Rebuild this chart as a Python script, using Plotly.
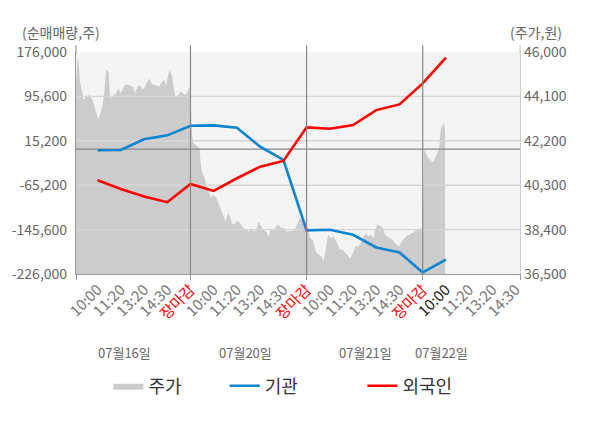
import plotly.graph_objects as go

# slot positions on x: each trading day = 5 slots (10:00, 11:20, 13:20, 14:30, 장마감)
tick_vals = list(range(1, 20))
tick_names = ["10:00", "11:20", "13:20", "14:30", "장마감",
              "10:00", "11:20", "13:20", "14:30", "장마감",
              "10:00", "11:20", "13:20", "14:30", "장마감",
              "10:00", "11:20", "13:20", "14:30"]
day_labels = ["07월16일", "07월20일", "07월21일", "07월22일"]
day_label_x = [2.15, 7.35, 12.52, 15.79]

# 기관 / 외국인 net volume (shares)
flow_x = list(range(1, 17))
inst = [-2000, -1500, 17900, 25100, 42500,
        43200, 38900, 4500, -19500, -147000,
        -146000, -155000, -178000, -187000, -223100,
        -200000]
foreign = [-56200, -71900, -85800, -95900, -62900,
           -75500, -52600, -31600, -21300, 39500,
           37000, 43700, 70800, 81100, 119100,
           166000]

# 주가 (won), intraday
price_x = [0.07, 0.14, 0.18, 0.24, 0.31, 0.40, 0.50, 0.60, 0.71, 0.78,
           0.89, 0.97, 1.03, 1.11, 1.21, 1.29, 1.36, 1.40, 1.47, 1.53,
           1.60, 1.69, 1.79, 1.90, 2.00, 2.12, 2.22, 2.36, 2.51, 2.62,
           2.72, 2.84, 2.94, 3.04, 3.15, 3.22, 3.32, 3.44, 3.55, 3.65,
           3.75, 3.87, 3.95, 4.05, 4.13, 4.20, 4.27, 4.34, 4.44, 4.56,
           4.66, 4.77, 4.87, 4.94, 5.00,
           5.04, 5.07, 5.13, 5.22, 5.32, 5.39, 5.43, 5.50, 5.60, 5.70,
           5.79, 5.89, 5.96, 6.08, 6.18, 6.28, 6.39, 6.51, 6.61, 6.68,
           6.78, 6.89, 6.97, 7.08, 7.18, 7.28, 7.40, 7.51, 7.61, 7.76,
           7.86, 7.94, 8.04, 8.14, 8.26, 8.36, 8.47, 8.57, 8.69, 8.80,
           8.90, 9.02, 9.12, 9.26, 9.38, 9.52, 9.62, 9.72, 9.83, 9.92,
           10.00,
           10.08, 10.15, 10.27, 10.37, 10.51, 10.65, 10.72, 10.80, 10.87, 10.94,
           11.04, 11.15, 11.27, 11.37, 11.44, 11.56, 11.66, 11.76, 11.87, 11.99,
           12.09, 12.23, 12.33, 12.45, 12.56, 12.66, 12.76, 12.88, 12.95, 13.05,
           13.16, 13.28, 13.38, 13.48, 13.59, 13.71, 13.81, 13.91, 13.99, 14.09,
           14.20, 14.31, 14.42, 14.53, 14.67, 14.81, 14.91, 15.00,
           15.06, 15.14, 15.24, 15.34, 15.43, 15.53, 15.63, 15.72, 15.77, 15.86,
           15.92, 15.96]
price = [44720, 45720, 45580, 44720, 44440, 43940, 44080, 44160, 44080, 43940,
         43590, 43230, 43090, 43370, 43660, 44300, 45150, 45220, 45150, 44160,
         44020, 44160, 44230, 44440, 44230, 44510, 44610, 44580, 44510, 44230,
         44510, 44580, 44370, 44510, 44720, 44870, 44660, 44580, 44580, 44510,
         44720, 44800, 44580, 45080, 45220, 45010, 44510, 44080, 44080, 44300,
         44230, 44160, 44300, 44510, 44080,
         43440, 42450, 42090, 42020, 41950, 41880, 41310, 40880, 40600, 40310,
         40030, 39750, 39890, 39810, 39600, 39320, 39100, 38750, 39100, 39030,
         38680, 38610, 38750, 38750, 38610, 38460, 38390, 38320, 38390, 38320,
         38460, 38750, 38530, 38390, 38320, 38110, 38460, 38390, 38530, 38610,
         38460, 38460, 38320, 38320, 38350, 38460, 38680, 38900, 38820, 38610,
         38680,
         38250, 38040, 37960, 37540, 37320, 37250, 37040, 37400, 37890, 38180,
         38040, 38110, 37890, 37680, 37540, 37540, 37400, 37320, 37140, 37400,
         37680, 37680, 37820, 38110, 38220, 38110, 38180, 38040, 38390, 38610,
         38560, 38460, 38180, 38110, 38040, 37960, 37820, 37750, 37680, 37890,
         38040, 38140, 38180, 38250, 38320, 38390, 38460, 38460,
         41810, 41670, 41450, 41380, 41270, 41450, 41670, 41950, 42660, 42880,
         42950, 42660]

left_ticks = [-226000, -145600, -65200, 15200, 95600, 176000]
right_ticks = [36500, 38400, 40300, 42200, 44100, 46000]
x_range = [0.07, 19.19]

FONT = "Noto Sans CJK KR"

tick_text = []
for i, t in enumerate(tick_names):
    if t == "장마감":
        tick_text.append('<span style="color:#ff0000">' + t + '</span>')
    elif i == 15:
        tick_text.append('<span style="color:#222222">' + t + '</span>')
    else:
        tick_text.append(t)

fig = go.Figure()

fig.add_trace(go.Scatter(x=price_x, y=price, mode="lines", name="주가",
                         fill="tozeroy", fillcolor="#cccccc",
                         line=dict(width=0, color="#cccccc"),
                         yaxis="y", legend="legend"))

# grid + zero line on the overlay axis so they sit above the price area
# but below the flow lines
for v in left_ticks[1:-1]:
    fig.add_trace(go.Scatter(x=x_range, y=[v, v], mode="lines", yaxis="y2",
                             line=dict(color="#d6d6d6", width=1.4),
                             hoverinfo="skip", showlegend=False))
fig.add_trace(go.Scatter(x=x_range, y=[0, 0], mode="lines", yaxis="y2",
                         line=dict(color="#888888", width=1.3),
                         hoverinfo="skip", showlegend=False))

fig.add_trace(go.Scatter(x=flow_x, y=inst, mode="lines", name="기관",
                         line=dict(color="#0a84d0", width=2.6),
                         yaxis="y2", legend="legend2"))
fig.add_trace(go.Scatter(x=flow_x, y=foreign, mode="lines", name="외국인",
                         line=dict(color="#ff0000", width=2.6),
                         yaxis="y2", legend="legend3"))

shapes = []
# day separators
for d in [5, 10, 15]:
    shapes.append(dict(type="line", xref="x", x0=d, x1=d, yref="paper", y0=0, y1=1.03,
                       line=dict(color="#888888", width=1.2), layer="above"))
# axis line stubs above the plot
shapes.append(dict(type="line", xref="paper", x0=0, x1=0, yref="paper", y0=0.99, y1=1.03,
                   line=dict(color="#999999", width=1.2), layer="above"))
shapes.append(dict(type="line", xref="paper", x0=1, x1=1, yref="paper", y0=0.99, y1=1.03,
                   line=dict(color="#cccccc", width=1.2), layer="above"))

annotations = []
for lbl, xv in zip(day_labels, day_label_x):
    annotations.append(dict(text=lbl, x=xv, xref="x", y=-0.355, yref="paper",
                            xanchor="center", yanchor="middle", showarrow=False,
                            font=dict(size=13, color="#666666")))
annotations.append(dict(text="(순매매량,주)", x=-0.033, xref="paper", y=1.09, yref="paper",
                        xanchor="center", yanchor="middle", showarrow=False,
                        font=dict(size=14, color="#666666")))
annotations.append(dict(text="(주가,원)", x=1.035, xref="paper", y=1.09, yref="paper",
                        xanchor="center", yanchor="middle", showarrow=False,
                        font=dict(size=14, color="#666666")))

leg = dict(orientation="h", yanchor="middle", y=-0.505, xanchor="left",
           font=dict(size=18, color="#333333"), bgcolor="rgba(0,0,0,0)")

# page body has an 8px margin, so the figure is 8px smaller each way
fig.update_layout(
    width=592, height=420,
    margin=dict(l=68, r=80, t=44, b=154, autoexpand=False),
    paper_bgcolor="white",
    plot_bgcolor="#f4f4f4",
    font=dict(family=FONT, color="#666666"),
    showlegend=True,
    legend=dict(leg, x=0.073),
    legend2=dict(leg, x=0.335),
    legend3=dict(leg, x=0.645),
    xaxis=dict(range=x_range, tickmode="array", tickvals=tick_vals,
               ticktext=tick_text, tickangle=-45, ticks="",
               tickfont=dict(size=15, color="#777777"),
               showgrid=False, zeroline=False, showline=True,
               linecolor="#999999", linewidth=1.2, automargin=False,
               minor=dict(tickmode="array", tickvals=[x_range[0], 5, 10, 15, x_range[1]],
                          ticks="outside", ticklen=5, tickcolor="#999999",
                          showgrid=False)),
    yaxis=dict(range=[36500, 46000], side="right", tickmode="array",
               tickvals=right_ticks, ticktext=[f"{v:,}" for v in right_ticks],
               tickfont=dict(size=14, color="#666666"), showgrid=False,
               zeroline=False, showline=True, linecolor="#cccccc", linewidth=1.2,
               ticks="", automargin=False),
    yaxis2=dict(range=[-226000, 176000], side="left", overlaying="y",
                tickmode="array", tickvals=left_ticks,
                ticktext=[f"{v:,}" for v in left_ticks],
                tickfont=dict(size=14, color="#666666"), showgrid=False,
                zeroline=False, showline=True, linecolor="#999999", linewidth=1.2,
                ticks="", automargin=False, ticklabelstandoff=5),
    shapes=shapes,
    annotations=annotations,
)

fig.write_html("out.html")
